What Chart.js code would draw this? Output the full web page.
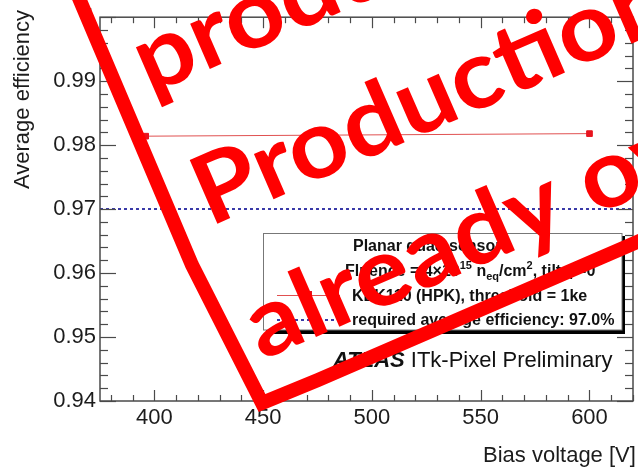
<!DOCTYPE html>
<html><head><meta charset="utf-8">
<script src="https://cdn.jsdelivr.net/npm/chart.js@4.4.1/dist/chart.umd.min.js"></script>
<style>html,body{margin:0;padding:0;background:#fff;overflow:hidden}#wrap{width:638px;height:469px;position:relative}</style>
</head><body><div id="wrap"><canvas id="c" width="638" height="469"></canvas></div>
<script>
// ---- data ----
const biasVoltage = [396, 600];
const avgEfficiency = [0.9814, 0.9818];
const requiredX = [375, 620];
const requiredEfficiency = [0.97, 0.97];
const xTickValues = [400, 450, 500, 550, 600];
const xTickLabels = ['400', '450', '500', '550', '600'];
const yTickValues = [0.94, 0.95, 0.96, 0.97, 0.98, 0.99, 1.0];
const yTickLabels = ['0.94', '0.95', '0.96', '0.97', '0.98', '0.99', '1'];
const xTitle = 'Bias voltage [V]';
const yTitle = 'Average efficiency';
const legendHeader = 'Planar quad sensor';
const legendEntry1 = 'KEK110 (HPK), threshold = 1ke';
const legendEntry2 = 'required average efficiency: 97.0%';
const stampLines = ['production', 'Production', 'already over'];

const AX = '#4a4a4a';
const TXT = '#1c1c1c';
const SANS = '"Liberation Sans", Arial, sans-serif';

const rootFrame = {
  id: 'rootFrame',
  afterDatasetsDraw(chart) {
    const ctx = chart.ctx;
    const {left, right, top, bottom} = chart.chartArea;
    const xs = chart.scales.x, ys = chart.scales.y;
    ctx.save();
    ctx.strokeStyle = AX; ctx.lineWidth = 1.5;
    ctx.strokeRect(left, top, right - left, bottom - top);
    ctx.lineWidth = 1.2;
    const line = (a, b, c, d) => { ctx.beginPath(); ctx.moveTo(a, b); ctx.lineTo(c, d); ctx.stroke(); };
    // y ticks (major 0.01, minor 0.002)
    for (let k = 0; k <= 30; k++) {
      const v = 0.94 + k * 0.002;
      const py = Math.round(ys.getPixelForValue(v)) + 0.5;
      const L = (k % 5 === 0) ? 16 : 8;
      line(left, py, left + L, py);
      line(right, py, right - L, py);
    }
    // x ticks (major 50, minor 10)
    for (let v = 380; v <= 620; v += 10) {
      const px = Math.round(xs.getPixelForValue(v)) + 0.5;
      const L = (v % 50 === 0) ? 11 : 6;
      line(px, bottom, px, bottom - L);
      line(px, top, px, top + L);
    }
    // legend box
    ctx.fillStyle = '#fff'; ctx.fillRect(263, 233, 359, 97);
    ctx.fillStyle = '#000'; ctx.fillRect(266, 330, 359, 4); ctx.fillRect(622, 236, 3, 98);
    ctx.strokeStyle = '#777'; ctx.lineWidth = 1; ctx.strokeRect(263.5, 233.5, 358.5, 96.5);
    // legend samples
    ctx.strokeStyle = '#e05050'; ctx.lineWidth = 1;
    line(277, 295.5, 340, 295.5);
    ctx.fillStyle = '#e8141e'; ctx.fillRect(304, 291, 8, 8);
    ctx.strokeStyle = '#3a3aa8'; ctx.lineWidth = 2; ctx.setLineDash([3, 3]);
    line(277, 320, 338, 320);
    ctx.setLineDash([]);
    // legend texts
    ctx.fillStyle = '#111'; ctx.textBaseline = 'alphabetic'; ctx.textAlign = 'left';
    ctx.font = 'bold 16px ' + SANS;
    ctx.fillText(legendHeader, 353, 251);
    ctx.fillText(legendEntry1, 352, 301);
    ctx.fillText(legendEntry2, 352, 325);
    const segs = [
      ['Fluence = 4\u00d710', 16, 0], ['15', 11, -7], [' n', 16, 0], ['eq', 11, 4],
      ['/cm', 16, 0], ['2', 11, -7], [', tilt \u03c6=0', 16, 0], ['\u00b0', 11, -7]
    ];
    let x = 345;
    for (const [t, s, dy] of segs) {
      ctx.font = 'bold ' + s + 'px ' + SANS;
      ctx.fillText(t, x, 276 + dy);
      x += ctx.measureText(t).width;
    }
    // ATLAS label
    ctx.fillStyle = '#111';
    ctx.font = 'italic bold 22px ' + SANS;
    ctx.fillText('ATLAS', 333, 367);
    const w = ctx.measureText('ATLAS ').width;
    ctx.font = '22px ' + SANS;
    ctx.fillText('ITk-Pixel Preliminary', 333 + w, 367);
    // axis titles
    ctx.fillStyle = TXT;
    ctx.font = '22px ' + SANS;
    ctx.fillText(xTitle, 483, 462);
    ctx.save();
    ctx.translate(29, 10); ctx.rotate(-Math.PI / 2);
    ctx.textAlign = 'right';
    ctx.fillText(yTitle, 0, 0);
    ctx.restore();
    ctx.restore();
  },
  afterDraw(chart) {
    const ctx = chart.ctx;
    ctx.save();
    // stamp frame
    ctx.strokeStyle = '#ff0000'; ctx.lineWidth = 14; ctx.lineJoin = 'miter'; ctx.miterLimit = 10;
    ctx.beginPath();
    ctx.moveTo(73, -16);
    ctx.lineTo(192, 265);
    ctx.lineTo(262, 403);
    ctx.lineTo(318, 380);
    ctx.lineTo(660, 232);
    ctx.stroke();
    // stamp text
    ctx.translate(267, 405);
    ctx.rotate(-23.5 * Math.PI / 180);
    ctx.scale(1.08, 1);
    ctx.fillStyle = '#ff0000';
    ctx.font = 'bold 96px Lato, "Open Sans", sans-serif';
    ctx.textBaseline = 'alphabetic'; ctx.textAlign = 'left';
    ctx.fillText(stampLines[0], 15, -331);
    ctx.fillText(stampLines[1], 17, -186);
    ctx.fillText(stampLines[2], 12, -43);
    ctx.restore();
  }
};

new Chart(document.getElementById('c'), {
  type: 'line',
  data: {
    datasets: [
      {
        label: 'required',
        data: requiredX.map((x, i) => ({x, y: requiredEfficiency[i]})),
        borderColor: '#3a3aa8', borderWidth: 2, borderDash: [3, 3],
        pointRadius: 0, fill: false, tension: 0
      },
      {
        label: 'KEK110',
        data: biasVoltage.map((x, i) => ({x, y: avgEfficiency[i]})),
        borderColor: '#e05050', borderWidth: 1,
        pointStyle: 'rect', pointRadius: 4,
        pointBackgroundColor: '#e8141e', pointBorderColor: '#e8141e',
        fill: false, tension: 0
      }
    ]
  },
  options: {
    responsive: false, animation: false, devicePixelRatio: 1,
    layout: {padding: {top: 13, right: 5, left: 0, bottom: 0}},
    plugins: {legend: {display: false}, tooltip: {enabled: false}},
    scales: {
      x: {
        type: 'linear', min: 375, max: 620,
        afterBuildTicks: s => { s.ticks = xTickValues.map(v => ({value: v})); },
        afterFit: s => { s.height = 68; },
        grid: {display: false, drawTicks: false}, border: {display: false},
        ticks: {
          callback: (v, i) => xTickLabels[i], autoSkip: false, maxRotation: 0,
          padding: 4, color: TXT, font: {family: SANS, size: 22}
        }
      },
      y: {
        type: 'linear', min: 0.94, max: 1.0,
        afterBuildTicks: s => { s.ticks = yTickValues.map(v => ({value: v})); },
        afterFit: s => { s.width = 100; },
        grid: {display: false, drawTicks: false}, border: {display: false},
        ticks: {
          callback: (v, i) => yTickLabels[i], autoSkip: false,
          padding: 4, color: TXT, font: {family: SANS, size: 22}
        }
      }
    }
  },
  plugins: [rootFrame]
});
</script>
</body></html>
